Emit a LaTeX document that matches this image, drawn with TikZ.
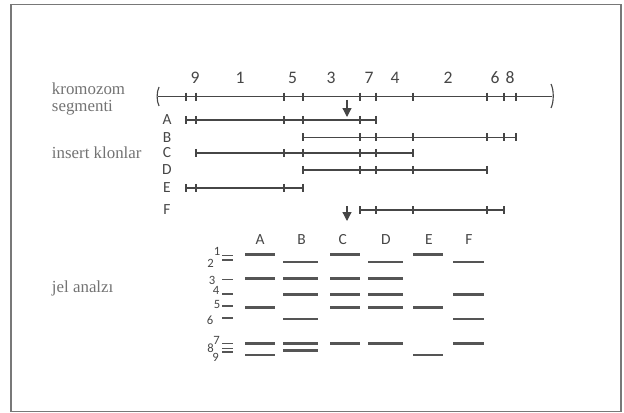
\documentclass[tikz,border=0pt]{standalone}
\usepackage{fontspec}
\setmainfont{Carlito}
\newfontfamily\sidefont{Liberation Serif}
\usepackage{tikz}
\usetikzlibrary{arrows.meta,positioning}
\definecolor{inkgrey}{RGB}{70,70,70}
\definecolor{sidegrey}{RGB}{115,115,115}
\definecolor{bandgrey}{RGB}{85,85,85}
\definecolor{framegrey}{RGB}{120,120,120}

\begin{document}
\begin{tikzpicture}[x=0.025cm,y=-0.025cm,
  every node/.style={font=\fontsize{11}{13}\selectfont,text=inkgrey,inner sep=0pt},
  seg/.style={draw=inkgrey,line width=0.8pt},
  band/.style={draw=bandgrey,line width=1.5pt},
  sidelabel/.style={anchor=west,font=\sidefont\fontsize{12}{14}\selectfont,text=sidegrey},
  cutarrow/.style={draw=inkgrey,line width=0.9pt,-{Triangle[length=2.2mm,width=2.2mm]}}]
\useasboundingbox (0,0) rectangle (624,413);
% frame
\draw[framegrey,line width=1.3pt] (11,4.5) rectangle (621,411.5);

% side labels
\node[sidelabel] (lblChrom) at (51.7,89) {kromozom};
\node[sidelabel] (lblSeg) at (51.7,108) {segmenti};
\node[sidelabel] (lblInsert) at (51.7,152.7) {insert klonlar};
\node[sidelabel] (lblGel) at (51.7,288) {jel analzı};

% chromosome with its segments
\def\ych{96.7}
\draw[seg] (158,\ych) -- (552,\ych);
\draw[seg] (159,87) .. controls (156.5,92) and (156.5,101) .. (159,106);
\draw[seg] (551,84) .. controls (554,90) and (554,102) .. (551,108);
\foreach \x in {186,196,284,303,360,376,413,487,504,516}
  \draw[seg] (\x,\ych-4) -- (\x,\ych+4);
\foreach \x/\t in {195/9,240/1,292.5/5,331/3,369/7,395/4,448/2,495/6,510/8}
  \node[font=\fontsize{12.5}{14}\selectfont] (seg\t) at (\x,78) {\t};
\coordinate (cutTop) at (347,100);
\coordinate (cutTopEnd) at (347,117);
\draw[cutarrow] (cutTop) -- (cutTopEnd);

% insert clones: name/y/start/end/ticks
\foreach \n/\y/\s/\e/\ticks in {
  A/120/186/376/{186,196,284,303,360,376},
  B/137.5/303/516/{303,360,376,413,487,504,516},
  C/153/196/413/{196,284,303,360,376,413},
  D/170/303/487/{303,360,376,413,487},
  E/188/186/303/{186,196,284,303},
  F/210/360/504/{360,376,413,487,504}}{
  \node (clone\n) at (167,\y) {\n};
  \draw[seg] (\s,\y) -- (\e,\y);
  \foreach \x in \ticks
    \draw[seg] (\x,\y-4) -- (\x,\y+4);
}
\coordinate (cutLow) at (347,206);
\coordinate (cutLowEnd) at (347,221);
\draw[cutarrow] (cutLow) -- (cutLowEnd);

% gel analysis
\def\yA{254.5}\def\yB{262}\def\yC{278.5}\def\yD{294.5}\def\yE{307.5}
\def\yF{319}\def\yG{343.5}\def\yH{350.5}\def\yI{355}
% lane headers
\foreach \n/\x in {A/260,B/301.7,C/342.7,D/386,E/429,F/469}
  \node (lane\n) at (\x,240) {\n};
% marker lane
\foreach \y in {255.5,260,279.5,294,306,318,343.5,348.5,352}
  \draw[band,line width=1.1pt] (222,\y) -- (233,\y);
\foreach \t/\x/\y in {1/217/251.5,2/210.5/263,3/212/280,4/216/290.5,5/217/304,
    6/210/320,7/216.5/340,8/210.5/348,9/215.5/357}
  \node[font=\fontsize{9}{11}\selectfont] (mark\t) at (\x,\y) {\t};
% bands: left/right/levels
\foreach \l/\r/\ys in {
  245/275/{\yA,\yC,\yE,\yG,\yI},
  283/318/{\yB,\yC,\yD,\yF,\yG,\yH},
  330/360/{\yA,\yC,\yD,\yE,\yG},
  368/403/{\yB,\yC,\yD,\yE,\yG},
  413/443/{\yA,\yE,\yI},
  453/484/{\yB,\yD,\yF,\yG}}{
  \foreach \y in \ys
    \draw[band] (\l,\y) -- (\r,\y);
}
\end{tikzpicture}
\end{document}
